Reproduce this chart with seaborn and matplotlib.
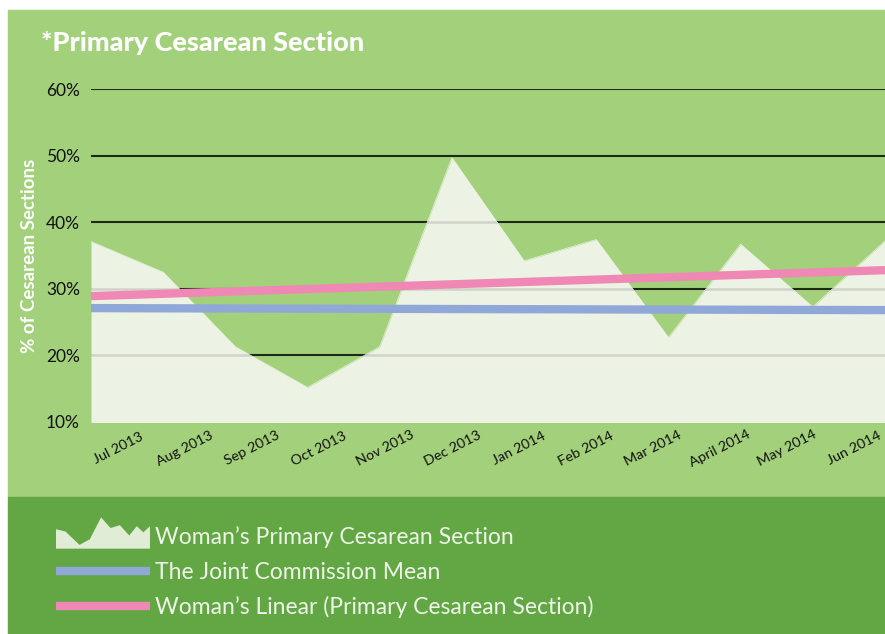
import numpy as np
import pandas as pd
import matplotlib
matplotlib.use("Agg")
import matplotlib.pyplot as plt
import seaborn as sns
from matplotlib.patches import Rectangle, Polygon
from matplotlib.lines import Line2D
from matplotlib.legend_handler import HandlerBase

# ---- data ----
months = ["Jul 2013", "Aug 2013", "Sep 2013", "Oct 2013", "Nov 2013", "Dec 2013",
          "Jan 2014", "Feb 2014", "Mar 2014", "April 2014", "May 2014", "Jun 2014"]
primary_rate = [37.1, 32.5, 21.3, 15.2, 21.3, 49.7, 34.2, 37.4, 22.7, 36.7, 27.3, 37.2]
trend_ends = [28.9, 32.8]          # Woman's Linear at first / last month
tjc_mean_ends = [27.1, 26.8]       # Joint Commission mean at first / last month
yticks = [10, 20, 30, 40, 50, 60]

# colours
LIGHT_BG = "#A3D07A"
DARK_BG = "#62A744"
AREA = "#ECF3E4"
PINK = "#F088B5"
BLUE = "#8FA8D8"
LEG_TXT = "#EEF4E8"

FONT = "Lato"
sns.set_theme(style="white")
plt.rcParams["font.family"] = [FONT, "DejaVu Sans"]

W, H = 885, 634
fig = plt.figure(figsize=(W / 100, H / 100), dpi=100, facecolor="white")

def fx(px):
    return px / W

def fy(py):
    return 1 - py / H

# backgrounds
fig.patches.append(Rectangle((fx(8), fy(497)), fx(W - 8), (497 - 10) / H,
                             transform=fig.transFigure, color=LIGHT_BG, zorder=-10))
fig.patches.append(Rectangle((fx(8), 0), fx(W - 8), (634 - 497) / H,
                             transform=fig.transFigure, color=DARK_BG, zorder=-10))

ax = fig.add_axes([fx(91), fy(422), fx(885 - 91), (422 - 89) / H])
ax.set_facecolor("none")

x = np.arange(len(months))
df = pd.DataFrame({"idx": x, "rate": primary_rate})

# gridlines (black over background)
for yv in yticks[1:]:
    ax.axhline(yv, color="#1e2a18", lw=1.5, zorder=1)

# area
sns.lineplot(data=df, x="idx", y="rate", ax=ax, color=AREA, lw=0.5, zorder=2)
poly = ax.fill_between(df["idx"], 0, df["rate"], color=AREA, lw=0, zorder=2)

# gray gridlines clipped to area
clip_path = poly.get_paths()[0]
for yv in yticks[1:]:
    ln = ax.axhline(yv, color="#cfd3cb", lw=1.8, zorder=3)
    ln.set_clip_path(clip_path, ax.transData)

# trend lines
tr = pd.DataFrame({"idx": [x[0], x[-1]], "trend": trend_ends, "tjc": tjc_mean_ends})
sns.lineplot(data=tr, x="idx", y="tjc", ax=ax, color=BLUE, lw=6, zorder=4,
             solid_capstyle="butt")
sns.lineplot(data=tr, x="idx", y="trend", ax=ax, color=PINK, lw=6, zorder=5,
             solid_capstyle="butt")

ax.set_xlim(x[0], x[-1])
ax.set_ylim(10, 60)
ax.set_yticks(yticks)
ax.set_yticklabels([f"{v}%" for v in yticks])
ax.tick_params(axis="y", length=0, pad=8, labelsize=12.5, labelcolor="#111111",
               left=False, labelleft=True)
ax.set_xticks([])
ax.set_xlabel("")
ax.set_ylabel("")
for s in ax.spines.values():
    s.set_visible(False)

# category labels on a twin x-axis
ax2 = ax.twiny()
ax2.set_xlim(-27 / 66.9, 11 + 31 / 66.9)
ax2.set_xticks(x)
ax2.set_xticklabels(months)
ax2.xaxis.set_ticks_position("bottom")
ax2.xaxis.set_label_position("bottom")
ax2.tick_params(axis="x", length=0, pad=19, labelsize=10.3)
for lab in ax2.get_xticklabels():
    lab.set_rotation(27)
    lab.set_ha("center")
    lab.set_va("center")
    lab.set_color("#111111")
for s in ax2.spines.values():
    s.set_visible(False)

# texts
fig.text(fx(41), fy(43), "*Primary Cesarean Section", color="white",
         fontsize=19.5, fontweight=900, va="center", ha="left")
fig.text(fx(30), fy(256), "% of Cesarean Sections", color="white",
         fontsize=13.5, fontweight="bold", rotation=90, va="center", ha="center")

# legend
class MountainHandler(HandlerBase):
    def create_artists(self, legend, orig_handle, xdescent, ydescent,
                       width, height, fontsize, trans):
        shape = [(0.0, 0.62), (0.1, 0.55), (0.25, 0.12), (0.36, 0.3), (0.48, 1.0),
                 (0.58, 0.66), (0.68, 0.75), (0.78, 0.42), (0.86, 0.72),
                 (0.93, 0.52), (1.0, 0.72), (1.0, 0.0), (0.0, 0.0)]
        hh = height * 1.95
        y0 = -ydescent - height * 0.3
        pts = [(-xdescent + px * width, y0 + py * hh) for px, py in shape]
        p = Polygon(pts, closed=True, facecolor="#E0ECD6", edgecolor="none",
                    transform=trans)
        return [p]

area_handle = Rectangle((0, 0), 1, 1)
handles = [area_handle,
           Line2D([0], [0], color=BLUE, lw=6, solid_capstyle="butt"),
           Line2D([0], [0], color=PINK, lw=6, solid_capstyle="butt")]
labels = ["Woman\u2019s Primary Cesarean Section",
          "The Joint Commission Mean",
          "Woman\u2019s Linear (Primary Cesarean Section)"]
leg = fig.legend(handles, labels, loc="upper left",
                 bbox_to_anchor=(fx(56), fy(526)), frameon=False,
                 prop={"size": 16.5, "weight": "normal"},
                 handlelength=4.1, handletextpad=0.2,
                 labelspacing=0.6, borderaxespad=0, borderpad=0,
                 handler_map={area_handle: MountainHandler()})
for t in leg.get_texts():
    t.set_color(LEG_TXT)

fig.savefig("out.png", dpi=100)
